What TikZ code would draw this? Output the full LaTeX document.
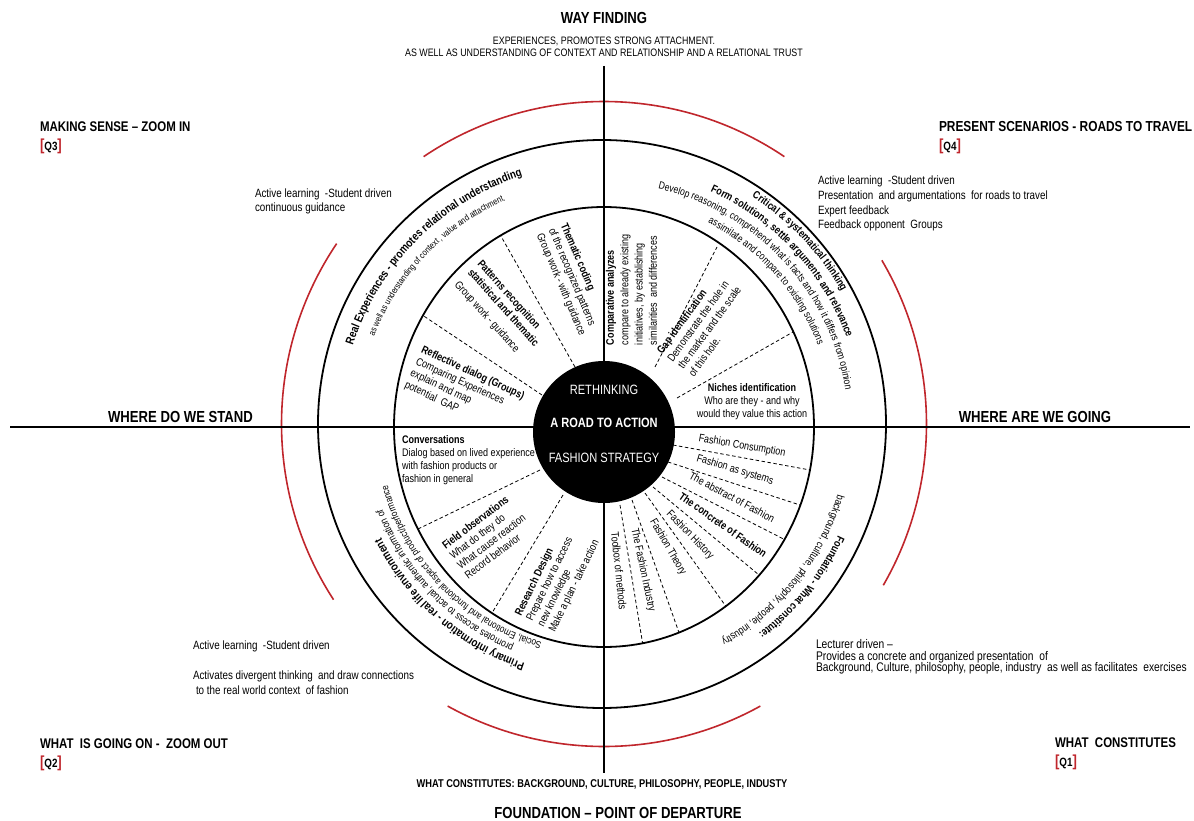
\documentclass[tikz,border=0pt]{standalone}
\usepackage{fontspec}
\setmainfont{Liberation Sans}[FakeStretch=0.82]
\usetikzlibrary{decorations.text}
\definecolor{qred}{HTML}{C0262C}
\newcommand{\myfs}[2]{\fontsize{#1}{#2}\selectfont}
\newcommand{\qlab}[1]{{\color{qred}\myfs{16}{16}[}#1{\color{qred}\myfs{16}{16}]}}
\newcommand{\arctext}[4]{%
  \path[decorate, decoration={text along path, text align=center, text={#4}}]
    (#2:#1) arc[start angle=#2, end angle=#3, radius=#1];}
\tikzset{
  lbl/.style={inner sep=0pt, outer sep=0pt},
  axisline/.style={line width=2.4pt},
  ringline/.style={line width=1.8pt},
  redarc/.style={line width=1.6pt, draw=qred},
  divider/.style={line width=0.8pt, dash pattern=on 3.5pt off 2.5pt},
  title/.style={lbl, font=\myfs{16}{16}\bfseries},
  qtitle/.style={lbl, font=\myfs{14}{14}\bfseries},
  note/.style={lbl, font=\myfs{12}{13}},
  inner/.style={lbl, font=\myfs{11}{13}, align=left},
  sector/.style={lbl, font=\myfs{11}{13}},
  hubtext/.style={lbl, text=white, font=\myfs{13.5}{14}},
}
\begin{document}
\begin{tikzpicture}[x=1pt,y=1pt]
\useasboundingbox (0,0) rectangle (1194,-821);
\fill[white] (0,0) rectangle (1194,-821);

% ---------- headings ----------
\node[title, anchor=base] (wayf) at (604,-23.3) {WAY FINDING};
\node[lbl, anchor=base, font=\myfs{10.8}{11}] (wayf1) at (604,-45) {EXPERIENCES, PROMOTES STRONG ATTACHMENT.};
\node[lbl, anchor=base, font=\myfs{10.8}{11}] (wayf2) at (604,-56.7) {AS WELL AS UNDERSTANDING OF CONTEXT AND RELATIONSHIP AND A RELATIONAL TRUST};

\node[qtitle, anchor=base west] (q3t) at (40,-131.7) {MAKING SENSE -- ZOOM IN};
\node[lbl, anchor=base west, font=\myfs{12}{12}\bfseries] (q3) at (40,-151) {\qlab{Q3}};
\node[qtitle, anchor=base west, font=\myfs{14.5}{14.5}\bfseries] (q4t) at (939,-131.7) {PRESENT SCENARIOS - ROADS TO TRAVEL};
\node[lbl, anchor=base west, font=\myfs{12}{12}\bfseries] (q4) at (939,-151) {\qlab{Q4}};
\node[qtitle, anchor=base west] (q2t) at (40,-748.3) {WHAT\ \ IS GOING ON -\ \ ZOOM OUT};
\node[lbl, anchor=base west, font=\myfs{12}{12}\bfseries] (q2) at (40,-767) {\qlab{Q2}};
\node[qtitle, anchor=base west] (q1t) at (1055,-747.5) {WHAT\ \ CONSTITUTES};
\node[lbl, anchor=base west, font=\myfs{12}{12}\bfseries] (q1) at (1055,-766) {\qlab{Q1}};

\node[lbl, anchor=base, font=\myfs{11.3}{11}\bfseries] (found1) at (602,-787.7) {WHAT CONSTITUTES: BACKGROUND, CULTURE, PHILOSOPHY, PEOPLE, INDUSTY};
\node[title, anchor=base] (found) at (618,-818.3) {FOUNDATION -- POINT OF DEPARTURE};

\node[title, anchor=base] (stand) at (180.5,-422) {WHERE DO WE STAND};
\node[title, anchor=base] (going) at (1035,-422) {WHERE ARE WE GOING};

% ---------- quadrant notes ----------
\node[note, anchor=base west] (n3a) at (255,-198) {Active learning\ \ -Student driven};
\node[note, anchor=base west] (n3b) at (255,-212) {continuous guidance};

\node[note, anchor=base west] (n4a) at (818,-185) {Active learning\ \ -Student driven};
\node[note, anchor=base west] (n4b) at (818,-200) {Presentation\ \ and argumentations\ \ for roads to travel};
\node[note, anchor=base west] (n4c) at (818,-214.3) {Expert feedback};
\node[note, anchor=base west] (n4d) at (818,-228.5) {Feedback opponent\ \ Groups};

\node[note, anchor=base west] (n2a) at (193,-649) {Active learning\ \ -Student driven};
\node[note, anchor=base west] (n2b) at (193,-679.5) {Activates divergent thinking\ \ and draw connections};
\node[note, anchor=base west] (n2c) at (196,-694) {to the real world context\ \ of fashion};

\node[note, anchor=base west, font=\myfs{12.5}{13}] (n1a) at (816,-648) {Lecturer driven --};
\node[note, anchor=base west, font=\myfs{12.5}{13}] (n1b) at (816,-660) {Provides a concrete and organized presentation\ \ of};
\node[note, anchor=base west, font=\myfs{12.5}{13}] (n1c) at (816,-671.5) {Background, Culture, philosophy, people, industry\ \ as well as facilitates\ \ exercises};

% ---------- wheel ----------
\begin{scope}[shift={(604,-427)}]
  % red arcs
  \draw[redarc] (0,3) ++(56:322.5) arc[start angle=56, end angle=124, radius=322.5];
  \draw[redarc] (0,3) ++(241:322.5) arc[start angle=241, end angle=299, radius=322.5];
  \draw[redarc] (0,3) ++(-30:322.5) arc[start angle=-30, end angle=30.5, radius=322.5];
  \draw[redarc] (0,3) ++(146:322.5) arc[start angle=146, end angle=213, radius=322.5];
  % rings
  \draw[ringline] (-2,3) circle (284);
  \draw[ringline] (0,0) ellipse [x radius=210, y radius=220];

  % dividers Q3
  \draw[divider] (-62,32) -- (-181,111.5);
  \draw[divider] (-29,60) -- (-103.4,191.5);
  % dividers Q4
  \draw[divider] (51,60) -- (113,180);
  \draw[divider] (73,29) -- (189,95);
  % dividers Q2
  \draw[divider] (-64,-43) -- (-186,-102);
  \draw[divider] (-41,-68) -- (-112,-186);
  % dividers Q1
  \draw[divider] (69,-18) -- (206,-43);
  \draw[divider] (64,-35) -- (196,-78);
  \draw[divider] (58,-50) -- (180.5,-112.5);
  \draw[divider] (49,-60) -- (155.3,-148.2);
  \draw[divider] (41,-66) -- (121.8,-179.2);
  \draw[divider] (28,-73) -- (75,-205.6);
  \draw[divider] (16,-78) -- (38.6,-216.2);

  % curved outer ring texts
  \arctext{264}{180}{90}{|\myfs{11.8}{11.8}\bfseries|Real Experiences - promotes relational understanding}
  \arctext{247}{181}{91}{|\myfs{9}{9}|as well as understanding of context , value and attachment.}
  \arctext{273.5}{88.5}{-1.5}{|\myfs{10.8}{10.8}\bfseries|Critical {\&} systematical thinking}
  \arctext{258.5}{88}{-2}{|\myfs{11}{11}\bfseries|Form solutions, settle arguments and relevance}
  \arctext{244}{88}{-2}{|\myfs{10.5}{10.5}|Develop reasoning, comprehend what is facts and how it differs from opinion}
  \arctext{229}{87}{-3}{|\myfs{10.5}{10.5}|assimilate and compare to existing solutions}
  \arctext{258}{6}{-84}{|\myfs{11}{11}\bfseries|Foundation - What constitute:}
  \arctext{243}{6.4}{-83.6}{|\myfs{10.7}{10.7}|background, culture, philosophy, people, industry}
  \arctext{249}{274}{184}{|\myfs{11.8}{11.8}\bfseries|Primary information - real life environment}
  \arctext{236}{269}{179}{|\myfs{10.5}{10.5}|promotes access to actual, authentic information of}
  \arctext{224}{269.5}{179.5}{|\myfs{10}{10}|Social, Emotional and functional aspect of product/performance}

  % Q3 inner sectors
  \node[inner, rotate=-25, anchor=north west] (refl) at (-180,82)
    {\textbf{Reflective dialog (Groups)}\\Comparing Experiences\\explain and map\\potential\ \ GAP};
  \node[inner, rotate=-48, anchor=north west] (patt) at (-121,168)
    {\textbf{Patterns recognition}\\\textbf{statistical and thematic}\\[5pt]Group work - guidance};
  \node[inner, rotate=-67, anchor=north west] (them) at (-36,205)
    {\textbf{Thematic coding}\\of the recognized patterns\\Group work - with guidance};
  % Q4 inner sectors
  \node[inner, font=\myfs{11}{14.3}, rotate=90, anchor=north west] (comp) at (2,82)
    {\textbf{Comparative analyzes}\\compare to already existing\\initiatives, by establishing\\similarities\ \ and differences};
  \node[inner, rotate=54, anchor=north west] (gap) at (52,77)
    {\textbf{Gap identification}\\Demonstrate the hole in\\the market and the scale\\of this hole.};
  \node[inner, align=center] (niche) at (148,25.5)
    {\textbf{Niches identification}\\Who are they - and why\\would they value this action};
  % Q1 inner sectors
  \node[sector, rotate=-10] (s1) at (138,-19) {Fashion Consumption};
  \node[sector, rotate=-17] (s2) at (131,-43) {Fashion as systems};
  \node[sector, rotate=-28] (s3) at (128,-70) {The abstract of Fashion};
  \node[sector, rotate=-35, font=\myfs{11}{13}\bfseries] (s4) at (119,-98) {The concrete of Fashion};
  \node[sector, rotate=-46] (s5) at (86,-108) {Fashion History};
  \node[sector, rotate=-60] (s6) at (64,-120) {Fashion Theory};
  \node[sector, rotate=-78] (s7) at (39,-143) {The Fashion Industry};
  \node[sector, rotate=-84] (s8) at (15,-144) {Toolbox of methods};
  % Q2 inner sectors
  \node[inner, anchor=north west] (conv) at (-202,-9)
    {\textbf{Conversations}\\Dialog based on lived experience\\with fashion products or\\fashion in general};
  \node[inner, font=\myfs{11}{12.5}, rotate=37, anchor=north west] (field) at (-163,-116)
    {\textbf{Field observations}\\What do they do\\What cause reaction\\Record behavior};
  \node[inner, font=\myfs{11}{12.5}, rotate=64, anchor=north west] (resd) at (-90,-186)
    {\textbf{Research Design}\\Prepare how to access\\new knowledge\\Make a plan - take action};
\end{scope}

% ---------- axes ----------
\draw[axisline] (10,-427) -- (1190,-427);
\draw[axisline] (604,-66) -- (604,-773);

% ---------- hub ----------
\node[circle, fill=black, inner sep=0pt, minimum size=142pt] (hub) at (604,-432) {};
\node[hubtext] (hub1) at (604,-390) {RETHINKING};
\node[hubtext, font=\myfs{13.5}{14}\bfseries] (hub2) at (604,-423) {A ROAD TO ACTION};
\node[hubtext] (hub3) at (604,-458) {FASHION STRATEGY};
\end{tikzpicture}
\end{document}
